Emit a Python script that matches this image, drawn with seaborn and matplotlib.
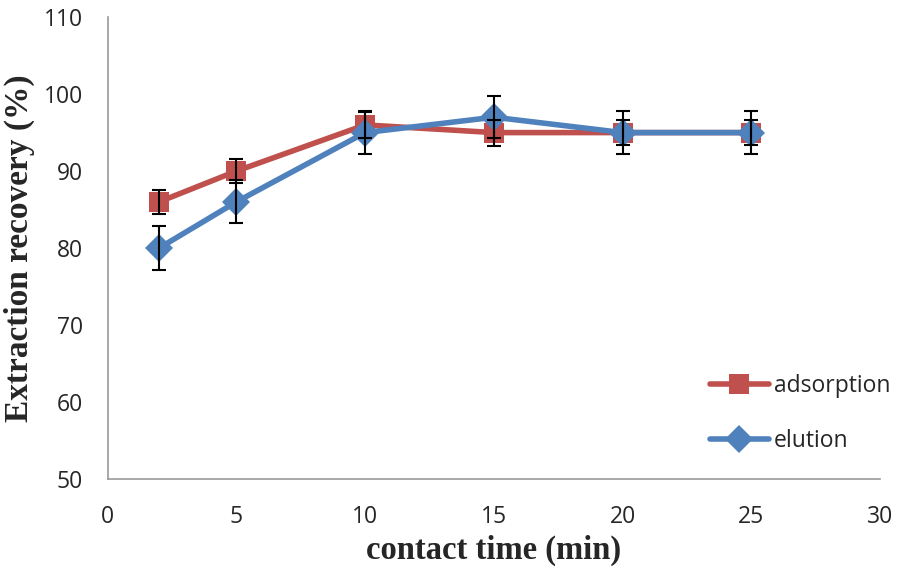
import pandas as pd
import seaborn as sns
import matplotlib.pyplot as plt

time = [2, 5, 10, 15, 20, 25]
adsorption = [86, 90, 96, 95, 95, 95]
elution = [80, 86, 95, 97, 95, 95]
adsorption_err = [1.6, 1.6, 1.7, 1.7, 1.6, 1.6]
elution_err = [2.8, 2.8, 2.8, 2.7, 2.8, 2.8]

df = pd.DataFrame({
    'time': time * 2,
    'recovery': adsorption + elution,
    'series': ['adsorption'] * 6 + ['elution'] * 6,
})

sns.set_style('white')
plt.rcParams['font.family'] = ['Open Sans', 'DejaVu Sans']

fig = plt.figure(figsize=(8.98, 5.74), dpi=100)
ax = fig.add_axes([0.12, 0.166, 0.86, 0.804])

palette = {'adsorption': '#C0504D', 'elution': '#4F81BD'}
sns.lineplot(data=df, x='time', y='recovery', hue='series', style='series',
             markers={'adsorption': 's', 'elution': 'D'}, dashes=False,
             palette=palette, linewidth=4, markersize=14,
             markeredgewidth=0, ax=ax)

ax.errorbar(time, adsorption, yerr=adsorption_err, fmt='none', ecolor='black',
            elinewidth=1.5, capsize=5, capthick=1.5, zorder=5)
ax.errorbar(time, elution, yerr=elution_err, fmt='none', ecolor='black',
            elinewidth=1.5, capsize=5, capthick=1.5, zorder=5)

ax.set_xlim(0, 30)
ax.set_ylim(50, 110)
ax.set_xticks(range(0, 31, 5))
ax.set_yticks(range(50, 111, 10))
ax.tick_params(axis='both', labelsize=16.5, length=0)
ax.tick_params(axis='y', pad=18)
ax.tick_params(axis='x', pad=19)

for s in ['top', 'right']:
    ax.spines[s].set_visible(False)
for s in ['left', 'bottom']:
    ax.spines[s].set_color('#999999')
    ax.spines[s].set_linewidth(1.2)

ax.set_xlabel('contact time (min)', family='Liberation Serif', fontweight='bold',
              fontsize=23.5, labelpad=4)
ax.set_ylabel('Extraction recovery (%)', family='Liberation Serif', fontweight='bold',
              fontsize=24, labelpad=6)

leg = ax.legend(loc='lower right', bbox_to_anchor=(1.025, 0.035), frameon=False,
                fontsize=16.5, handlelength=2.6, handletextpad=0.2, labelspacing=1.35,
                borderaxespad=0)
for line in leg.get_lines():
    line.set_linewidth(4)

fig.savefig('out.png', dpi=100)
